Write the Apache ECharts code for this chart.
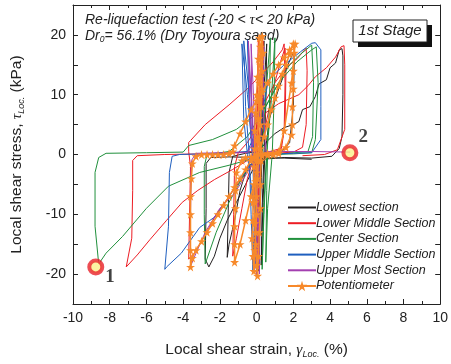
<!DOCTYPE html>
<html>
<head>
<meta charset="utf-8">
<script src="https://cdn.jsdelivr.net/npm/echarts@6/dist/echarts.min.js"></script>
<style>
html,body{margin:0;padding:0;background:#fff;}
#chart{width:451px;height:364px;}
</style>
</head>
<body>
<div id="chart"></div>
<script>
// 各截面的应力-应变数据 [应变(%), 应力(kPa)]
var lowest = [
 [0.2,0],[0.3,10],[0.4,19],[0.35,10],[0.25,0],[0.15,-10],[0.1,-19.5],[0.2,-9],[0.3,0],
 [0.4,11],[0.55,18.5],[0.5,8],[0.4,0],[0.3,-9],[0.25,-18.5],[0.35,-8],[0.45,0],
 [0.7,6],[1.2,11],[1.7,15],[2.0,17],[2.05,16],[2.0,8],[1.8,2],[1.3,0.2],[0.5,-0.3],[-0.5,-2],[-0.9,-6],[-1.2,-11],[-1.5,-15],[-1.6,-17.2],[-1.55,-10],[-1.5,-3],[-1.3,-0.3],[-0.6,0.2],[0.1,0.5],
 [0.5,2],[1.0,3.5],[1.5,4.5],[2.0,5],[2.3,5.5],[2.5,7.5],[2.9,8],[3.2,9.7],[3.4,11.8],[3.8,12.5],[4.0,14.5],[4.3,15.3],[4.5,17.5],[4.65,17.7],[4.7,16.5],[4.7,10],[4.65,3],[4.5,1],[4.1,-0.3],[3.0,-0.6],[1.5,-0.5],[0.3,-0.8],[-0.2,-2.5],[-0.6,-5],[-1.1,-8],[-1.6,-11],[-2.0,-14],[-2.3,-17],[-2.6,-18.8],[-2.8,-17.5],[-2.75,-9],[-2.75,-1.5],[-2.5,-0.5],[-1.5,-0.4],[0,-0.5],[1.5,-0.6],[3.0,-0.8]
];
var lowerMiddle = [
 [0,0],[0.05,10],[0.1,19.5],[0.05,9],[-0.05,0],[-0.1,-10],[-0.15,-19.8],[-0.05,-9],[0.05,0],
 [0.2,10],[0.35,19],[0.3,8],[0.15,0],[0.05,-10],[0,-19],[0.1,-8],[0.2,0],
 [0.5,5],[0.9,11],[1.3,15.5],[1.55,17.8],[1.6,14],[1.55,5],[1.35,1],[0.9,0.3],[0.3,0],[-0.2,-1],[-0.5,-4],[-0.8,-9],[-1.1,-14],[-1.3,-17],[-1.25,-10],[-1.2,-2],[-1.0,0.3],
 [-0.5,2],[0,4.5],[0.5,9],[1.0,12],[1.6,14.5],[2.2,16],[2.7,17.8],[2.75,14],[2.7,5],[2.5,1.2],[2.0,0.4],[1.0,0.2],[0.2,0],[-0.3,-1],[-0.8,-4],[-1.5,-7],[-2.2,-10],[-2.8,-13.5],[-3.4,-16.5],[-3.7,-17.5],[-3.65,-10],[-3.6,-2],[-3.7,0.5],
 [-3.7,2],[-2.8,5],[-1.5,8.3],[-0.5,11],[0.3,13.5],[0.9,15.5],[1.4,17.5],[1.5,18.5],[1.55,12],[1.5,4],[1.3,1],[0.5,0.3],[-0.4,-0.8],[-1.3,-2.5],[-2.3,-4.2],[-3.2,-6],[-4.05,-8],[-4.9,-11],[-5.8,-14.2],[-6.5,-16.8],[-7.1,-18.8],[-6.8,-14],[-6.75,-6],[-6.75,-1],[-6.5,-0.2],[-5,0],[-3,0.1],[-1.5,0.2],[-0.3,0.5],
 [0,1],[0.3,4],[0.5,7],[1.2,8.5],[2.3,10],[2.8,11.5],[3.2,13],[3.8,14.5],[4.3,16.3],[4.6,18],[4.76,18.2],[4.8,15],[4.8,4.2],[4.4,0.8],[3.7,0],[2.5,-0.2]
];
var centerSec = [
 [0.3,0],[0.5,10],[0.75,19.5],[0.7,8],[0.55,0],[0.4,-10],[0.3,-19.2],[0.4,-8],[0.55,0],
 [0.8,9],[1.0,19.5],[0.95,9],[0.85,0],[0.6,-9],[0.5,-18],[0.55,-6],[0.6,0],[0.4,0.2],
 [0,-0.5],[-0.8,-4],[-1.5,-8],[-2.2,-13],[-2.8,-18.3],[-2.85,-10],[-2.85,-2],[-2.7,0],[-1.5,0.5],
 [-0.5,3],[0.3,7],[1.2,12],[2.2,15.5],[3.0,17.5],[3.25,18],[3.35,12],[3.2,2.5],[3.0,0.3],[2,0.1],[0.5,0],
 [0,-0.5],[-1.5,-1.8],[-3.1,-3],[-4.8,-5.3],[-6,-9],[-7.3,-13.7],[-8.2,-16.5],[-8.6,-18.3],[-8.8,-12],[-8.8,-3],[-8.6,-0.5],[-8.2,0.2],[-6,0.3],[-4,0.4],
 [-3.7,1.5],[-2.4,2.5],[-1.1,4.2],[0.5,8],[1.2,12],[1.8,15],[2.4,16.8],[3.0,18.3],[3.1,12],[3.05,3],[2.8,0.5],[1.0,0]
];
var upperMiddle = [
 [-0.2,0],[-0.4,10],[-0.7,19],[-0.6,8],[-0.4,0],[-0.3,-10],[-0.2,-19.5],[-0.1,-8],[-0.2,0],
 [-0.5,10],[-0.8,18.5],[-0.7,6],[-0.5,0],[-0.1,-10],[0,-20],[-0.05,-9],[-0.15,0],
 [-0.3,10],[-0.5,19.2],[-0.4,7],[-0.2,-2],[-0.1,-12],[-0.05,-19],[0,-8],[0.2,1],
 [0.3,7],[0.65,12.5],[1.5,15],[2.4,17.2],[3.0,18.6],[3.2,18.7],[3.5,17.5],[3.5,8],[3.5,2.5],[3.0,0.3],[2,0.2],[0.5,0],
 [0,-0.5],[-0.5,-2.5],[-1.0,-4.5],[-1.7,-8],[-2.3,-10.5],[-3.1,-12.2],[-4.1,-16.5],[-4.9,-18.8],[-5.0,-19.2],[-4.8,-12],[-4.75,-3],[-4.6,-0.3],[-4.2,0],[-2,0.2],[-0.5,0.5],[0,4]
];
var upperMost = [
 [-0.1,0],[-0.3,10],[-0.45,19],[-0.35,6],[-0.2,0],[-0.1,-10],[0,-20.5],[0.05,-8],[-0.05,0],
 [-0.2,12],[-0.3,18.5],[-0.25,5],[0,-1],[0.1,-12],[0.15,-20],[0.2,-8],[0.1,0],
 [0,-0.5],[-0.5,-3],[-1.2,-6.5],[-2.0,-9],[-2.8,-13],[-3.3,-16.5],[-3.6,-18.7],[-3.6,-10],[-3.55,-1],[-3.3,0.2],[-2,0.3],[-0.5,0.3],
 [0,3],[0.3,10],[0.4,18],[0.35,8],[0.5,0.5],[1.2,0.5],[3,0.5],[5.1,0.4]
];
var potentiometer = [
 [0,0],[0.05,3],[0.1,6],[0.1,9],[0.15,12],[0.2,15],[0.2,18],[0.15,19.5],[0.1,16],[0.05,13],[0,10],[-0.05,7],[-0.1,4],[-0.1,1],[-0.15,-2],[-0.15,-5],[-0.2,-8],[-0.2,-11],[-0.25,-14],[-0.2,-17],[-0.15,-19.5],[-0.1,-16],[-0.05,-13],[0,-10],[0,-7],[0.05,-4],[0.1,-1],
 [0.15,2],[0.2,5],[0.25,8],[0.3,11],[0.3,14],[0.35,17],[0.3,19.8],[0.25,16.5],[0.2,13],[0.15,9.5],[0.1,6],[0.05,2.5],[0,-1],[-0.05,-4.5],[-0.1,-8],[-0.1,-11.5],[-0.05,-15],[0,-18.5],[0.05,-20.3],[0.1,-17],[0.15,-13],[0.2,-9],[0.2,-5],[0.25,-1],
 [0.2,1],[0.4,3],[0.6,5],[0.8,7.5],[1.0,9.5],[1.2,11.5],[1.4,13.5],[1.6,15],[1.8,16.8],[2.0,18.5],[2.05,17],[2.0,14],[2.0,11],[1.95,8],[1.95,5],[1.9,3.3],[1.6,1.2],[1.2,0.5],[0.9,0.3],[0.6,0.2],[0.3,0.1],[0,0],
 [-0.3,-1],[-0.6,-2.5],[-0.9,-4],[-1.2,-5.5],[-1.5,-7],[-1.8,-8.5],[-2.1,-10],[-2.4,-11.5],[-2.7,-13],[-3.0,-14.5],[-3.3,-16],[-3.5,-17.3],[-3.6,-18.8],[-3.6,-16],[-3.6,-13],[-3.6,-10],[-3.6,-7],[-3.55,-4],[-3.5,-1.5],[-3.3,-0.3],
 [-3.0,0],[-2.7,0],[-2.4,0],[-2.1,0],[-1.8,0],[-1.5,0.2],[-1.3,0.5],[-1.2,1.5],[-0.9,3.5],[-0.6,5.5],[-0.3,7.5],[0,9],[0.3,10.5],[0.6,12],[0.9,13.5],[1.2,15],[1.5,16.2],[1.8,17.5],[2.1,18.5],
 [1.9,12],[1.5,4],[1.2,0.2],[0.9,0],[0.6,-0.1],[0.3,-0.2],[0,-0.3],[-0.3,-0.4],[-0.6,-0.5],[-0.8,-1],[-1.1,-3],[-1.15,-6],[-1.15,-9],[-1.2,-12],[-1.2,-15],[-1.2,-18],[-0.9,-15],[-0.6,-11],[-0.3,-7],[0,-3]
];
// 标记点 1 和 2
var markPoints = [[-8.76,-18.8,'1'],[5.08,0.3,'2']];

var seriesNames = ['Lowest section','Lower Middle Section','Center Section','Upper Middle Section','Upper Most Section','Potentiometer'];
var seriesData = [lowest, lowerMiddle, centerSec, upperMiddle, upperMost, potentiometer];
var seriesColors = ['#231f20','#ed1c24','#20903c','#1f5fbf','#a33fb0','#f7892a'];

var starPath = 'path://M50,0 L61,35 L98,35 L68,57 L79,91 L50,70 L21,91 L32,57 L2,35 L39,35 Z';
var font = 'Liberation Sans';

var series = [];
var legendData = [];
for (var i = 0; i < seriesData.length; i++) {
    var isPot = seriesNames[i] == 'Potentiometer';
    series.push({
        name: seriesNames[i],
        type: 'line',
        data: seriesData[i],
        symbol: isPot ? starPath : 'none',
        symbolSize: 9,
        showAllSymbol: true,
        z: isPot ? 5 : 3,
        lineStyle: { color: seriesColors[i], width: isPot ? 1.5 : 1 },
        itemStyle: { color: seriesColors[i] },
        animation: false
    });
    legendData.push(isPot ? { name: seriesNames[i] } : { name: seriesNames[i], itemStyle: { opacity: 0 } });
}
series.push({
    type: 'scatter',
    data: [
        { value: markPoints[0], label: { position: [18, 9] } },
        { value: markPoints[1], label: { position: [17, -17] } }
    ],
    symbolSize: 13,
    z: 10,
    itemStyle: { color: '#fbf08a', borderColor: '#e8202a', borderWidth: 4 },
    label: {
        show: true,
        formatter: function (p) { return p.value[2]; },
        fontFamily: 'Liberation Serif',
        fontWeight: 'bold',
        fontSize: 19,
        color: '#111'
    },
    animation: false
});

function axisBase(pos) {
    return {
        type: 'value',
        position: pos,
        axisLine: { onZero: false, lineStyle: { color: '#222' } },
        axisTick: { inside: true, length: 5, lineStyle: { color: '#222' } },
        splitLine: { show: false }
    };
}

var subRich = {
    n: { fontFamily: font, fontSize: 15.5, color: '#222' },
    g: { fontFamily: 'Liberation Serif', fontStyle: 'italic', fontSize: 15.5, color: '#222' },
    s: { fontFamily: font, fontStyle: 'italic', fontSize: 9, color: '#222', padding: [9, 0, 0, 0] }
};

var xBottom = axisBase('bottom');
xBottom.min = -10; xBottom.max = 10; xBottom.interval = 2;
xBottom.minorTick = { show: true, splitNumber: 2, length: 3, lineStyle: { color: '#222' } };
xBottom.axisLabel = { fontFamily: font, fontSize: 14, color: '#222', margin: 7 };
xBottom.name = '{n|Local shear strain, }{g|γ}{s|Loc.}{n| (%)}';
xBottom.nameLocation = 'middle';
xBottom.nameGap = 37;
xBottom.nameTextStyle = { rich: subRich };

var xTop = axisBase('top');
xTop.min = -10; xTop.max = 10; xTop.interval = 2;
xTop.minorTick = { show: true, splitNumber: 2, length: 3, lineStyle: { color: '#222' } };
xTop.axisLabel = { show: false };

var yLeft = axisBase('left');
yLeft.min = -25; yLeft.max = 25; yLeft.interval = 5;
yLeft.axisLabel = {
    fontFamily: font, fontSize: 14, color: '#222', margin: 7,
    formatter: function (v) { return v % 10 == 0 ? v : ''; }
};
yLeft.name = '{n|Local shear stress, }{g|τ}{s|Loc.}{n| (kPa)}';
yLeft.nameLocation = 'middle';
yLeft.nameRotate = 90;
yLeft.nameGap = 47;
yLeft.nameTextStyle = { rich: subRich };

var yRight = axisBase('right');
yRight.min = -25; yRight.max = 25; yRight.interval = 5;
yRight.axisLabel = { show: false };

var option = {
    backgroundColor: '#fff',
    animation: false,
    grid: { left: 73, right: 8, top: 5, bottom: 59 },
    legend: {
        data: legendData,
        orient: 'vertical',
        left: 282,
        top: 196,
        itemWidth: 28,
        itemHeight: 13,
        itemGap: 2.7,
        textStyle: { fontFamily: font, fontStyle: 'italic', fontSize: 12.5, color: '#222', padding: [0, 0, 0, -5] }
    },
    xAxis: [xBottom, xTop],
    yAxis: [yLeft, yRight],
    graphic: [{
        type: 'text', left: 85, top: 13,
        style: {
            text: '{n|Re-liquefaction test (-20 < }{g|τ}{n|< 20 kPa)}',
            rich: {
                n: { fontFamily: font, fontStyle: 'italic', fontSize: 14, fill: '#222' },
                g: { fontFamily: 'Liberation Serif', fontStyle: 'italic', fontSize: 15, fill: '#222' }
            }
        }
    }, {
        type: 'text', left: 85, top: 29,
        style: {
            text: '{n|Dr}{s|0}{n|= 56.1% (Dry Toyoura sand)}',
            rich: {
                n: { fontFamily: font, fontStyle: 'italic', fontSize: 14, fill: '#222' },
                s: { fontFamily: font, fontStyle: 'italic', fontSize: 8.5, fill: '#222', padding: [8, 0, 0, 0] }
            }
        }
    }, {
        type: 'rect', shape: { x: 358, y: 25, width: 74, height: 22 },
        style: { fill: '#111' }, z: 20
    }, {
        type: 'rect', shape: { x: 353, y: 20, width: 74, height: 22 },
        style: { fill: '#fff', stroke: '#222', lineWidth: 1 }, z: 21
    }, {
        type: 'text', x: 390, y: 31, z: 22,
        style: {
            text: '1st Stage', fontFamily: font, fontStyle: 'italic', fontSize: 15,
            fill: '#222', align: 'center', verticalAlign: 'middle'
        }
    }],
    series: series
};

var myChart = echarts.init(document.getElementById('chart'));
myChart.setOption(option);
</script>
</body>
</html>
